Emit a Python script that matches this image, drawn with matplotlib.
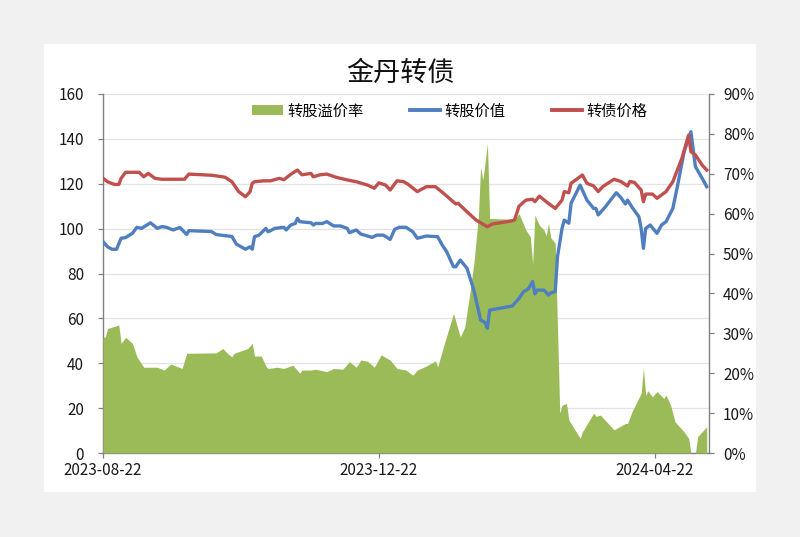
import numpy as np
import pandas as pd
import matplotlib
matplotlib.use("Agg")
import matplotlib.pyplot as plt
from matplotlib.patches import Patch, Rectangle
from matplotlib.lines import Line2D

plt.rcParams['font.family'] = ['Noto Sans CJK SC', 'DejaVu Sans']

START = pd.Timestamp('2023-08-22')

# 转债价格 (left axis) : days since START, value
red_days = [0, 2, 5, 7, 8, 10, 16, 18, 20, 23, 26, 36, 38, 48, 54, 57, 60, 63, 65, 66, 67, 71, 74, 78, 80,
            83, 86, 88, 92, 93, 96, 99, 103, 108, 112, 117, 120, 122, 125, 127, 130, 133, 135, 139, 143,
            147, 151, 156, 157, 161, 165, 170, 172, 181, 182, 184, 187, 190, 191, 193, 196, 200, 203,
            204, 206, 207, 212, 214, 217, 219, 221, 226, 229, 232, 233, 235, 238, 239, 240, 243, 245,
            249, 252, 256, 259, 260, 262, 265, 267]
red_vals = [122.4, 120.9, 119.7, 119.7, 122.4, 125.1, 125.1, 123.1, 124.6, 122.4, 122.0, 122.0, 124.3,
            123.8, 122.9, 120.9, 116.5, 114.2, 116.4, 120.2, 120.9, 121.3, 121.3, 122.4, 121.8, 124.2,
            126.1, 124.0, 124.6, 123.1, 124.0, 124.3, 122.9, 121.7, 120.9, 119.4, 118.0, 120.4, 119.4,
            117.2, 121.3, 120.9, 119.7, 116.5, 118.7, 118.7, 115.4, 111.0, 111.3, 107.5, 103.8, 100.8,
            102.0, 103.5, 103.9, 110.0, 112.7, 113.1, 112.0, 114.5, 112.0, 109.0, 112.7, 116.5, 116.0,
            120.2, 123.9, 120.2, 119.0, 116.5, 118.7, 122.0, 121.0, 119.0, 121.0, 120.6, 117.2, 112.0,
            115.4, 115.4, 113.5, 116.5, 120.9, 131.3, 141.7, 134.3, 132.8, 128.3, 126.1]

# 转股价值 (left axis)
blue_days = [0, 2, 4, 6, 8, 10, 13, 15, 17, 21, 24, 26, 28, 31, 34, 37, 38, 48, 50, 52, 57, 59, 63, 65,
             66, 67, 69, 72, 73, 76, 80, 81, 83, 85, 86, 87, 92, 93, 94, 97, 99, 102, 105, 108, 109, 112,
             114, 119, 121, 124, 127, 129, 131, 134, 137, 139, 143, 148, 150, 152, 155, 156, 158, 161,
             164, 167, 169, 170, 171, 181, 184, 186, 188, 190, 191, 192, 195, 197, 198, 200, 201, 203,
             204, 206, 207, 211, 214, 217, 218, 219, 222, 227, 229, 231, 232, 234, 237, 238, 239, 240,
             242, 245, 247, 249, 252, 254, 257, 260, 262, 265, 267]
blue_vals = [94.2, 91.9, 90.8, 90.8, 95.7, 96.0, 97.9, 100.6, 100.1, 102.6, 100.1, 100.9, 100.6, 99.4,
             100.5, 97.4, 99.1, 98.7, 97.4, 97.1, 96.5, 93.1, 90.8, 91.9, 90.8, 96.4, 97.1, 100.1, 98.6,
             100.1, 100.6, 99.4, 101.6, 102.3, 104.6, 103.1, 102.6, 101.6, 102.3, 102.3, 103.1, 101.2,
             101.2, 100.1, 98.2, 99.4, 97.6, 96.1, 97.1, 97.1, 95.2, 99.7, 100.6, 100.6, 98.6, 95.7, 96.7,
             96.4, 92.7, 89.7, 83.0, 83.0, 86.0, 82.3, 72.6, 59.3, 58.1, 55.6, 63.7, 65.5, 68.9, 71.9,
             73.0, 76.4, 70.9, 72.6, 72.6, 70.4, 71.4, 71.9, 87.5, 100.1, 103.8, 102.4, 111.3, 119.4,
             112.7, 109.0, 109.0, 106.1, 109.5, 116.0, 113.9, 111.0, 112.7, 109.5, 105.3, 100.1, 91.2,
             100.1, 101.6, 97.9, 101.6, 103.1, 109.0, 118.7, 134.3, 143.2, 127.6, 122.4, 118.7]

# 转股溢价率 (right axis, %)
green_days = [0, 1, 2, 7, 8, 10, 13, 15, 18, 24, 27, 30, 35, 37, 50, 53, 55, 57, 58, 64, 66, 67, 70, 72,
              73, 77, 80, 84, 87, 88, 92, 94, 99, 102, 106, 109, 112, 114, 117, 120, 123, 127, 130, 134,
              137, 139, 143, 147, 148, 151, 155, 158, 160, 162, 164, 166, 167, 168, 170, 171, 181, 182,
              184, 187, 189, 190, 191, 193, 195, 196, 197, 198, 200, 202, 203, 205, 206, 211, 212, 217,
              218, 220, 226, 231, 232, 234, 238, 239, 240, 241, 243, 245, 248, 249, 251, 253, 257, 259,
              260, 262, 263, 267]
green_vals = [29.0, 29.1, 31.2, 32.1, 27.5, 29.0, 27.5, 24.1, 21.5, 21.5, 20.8, 22.3, 21.2, 25.0, 25.1,
              26.2, 25.0, 24.1, 25.0, 26.2, 27.5, 24.3, 24.3, 21.8, 21.2, 21.5, 21.2, 22.0, 20.0, 20.8,
              20.8, 21.0, 20.4, 21.2, 21.0, 22.9, 21.5, 23.3, 23.0, 21.5, 24.6, 23.3, 21.2, 20.8, 19.5,
              20.8, 21.8, 23.1, 21.6, 27.5, 35.0, 29.1, 31.6, 39.2, 47.5, 59.2, 71.8, 68.4, 77.6, 58.8,
              58.6, 58.6, 60.0, 55.9, 54.2, 47.5, 59.6, 57.1, 55.9, 54.5, 57.6, 54.0, 52.6, 10.0, 12.0,
              12.4, 8.3, 3.7, 5.3, 10.0, 9.2, 9.5, 5.8, 7.4, 7.4, 10.4, 15.0, 21.2, 14.5, 15.6, 14.1,
              15.4, 13.7, 14.5, 12.0, 7.8, 5.3, 3.7, 0.0, 0.0, 4.1, 6.6]

tick_labels = ['2023-08-22', '2023-12-22', '2024-04-22']
left_ticks = [0, 20, 40, 60, 80, 100, 120, 140, 160]
right_ticks = [0, 10, 20, 30, 40, 50, 60, 70, 80, 90]

GREEN = '#9BBB59'
BLUE = '#4F7FBF'
RED = '#C0504D'
SPINE = '#808080'

red_x = START + pd.to_timedelta(red_days, unit='D')
blue_x = START + pd.to_timedelta(blue_days, unit='D')
green_x = START + pd.to_timedelta(green_days, unit='D')
tick_x = pd.to_datetime(tick_labels)

fig = plt.figure(figsize=(8.0, 5.37), dpi=100)
fig.patch.set_facecolor('#f1f1f1')
fig.patches.append(Rectangle((44 / 800, 1 - 492 / 537), (756 - 44) / 800, (492 - 44) / 537,
                             transform=fig.transFigure, facecolor='white', edgecolor='none',
                             zorder=-10))

pos = [103 / 800, 1 - 453 / 537, (709 - 103) / 800, (453 - 94) / 537]
ax = fig.add_axes(pos)
ax.set_facecolor('white')
ax2 = ax.twinx()
ax3 = ax.twinx()
ax.set_zorder(1)
ax2.set_zorder(2)
ax3.set_zorder(3)

xmin = START
xmax = START + pd.Timedelta(days=268)

# background grid on left axis
ax.set_ylim(0, 160)
ax.set_yticks(left_ticks)
ax.yaxis.grid(True, color='#e3e3e3', linewidth=0.9)
ax.set_axisbelow(True)
ax.set_xlim(xmin, xmax)
ax.set_xticks(tick_x)
ax.set_xticklabels(tick_labels)

# premium area
ax2.fill_between(green_x, 0, green_vals, color=GREEN, linewidth=0, zorder=2)
ax2.set_ylim(0, 90)
ax2.set_yticks(right_ticks)
ax2.set_yticklabels([f'{t}%' for t in right_ticks])
ax2.patch.set_visible(False)

# lines
ax3.plot(blue_x, blue_vals, color=BLUE, linewidth=2.4, solid_joinstyle='round')
ax3.plot(red_x, red_vals, color=RED, linewidth=2.4, solid_joinstyle='round')
ax3.set_ylim(0, 160)
ax3.set_xlim(xmin, xmax)
ax3.patch.set_visible(False)
ax3.set_yticks([])
for s in ax3.spines.values():
    s.set_visible(False)

for a in (ax, ax2):
    a.spines['top'].set_visible(False)
    for s in ('left', 'right', 'bottom'):
        a.spines[s].set_color(SPINE)
        a.spines[s].set_linewidth(1.0)
    a.tick_params(colors=SPINE, labelcolor='#1a1a1a', labelsize=11, length=3.6, width=0.9,
                  direction='out')
ax.spines['right'].set_visible(False)
ax2.spines['left'].set_visible(False)
ax2.spines['bottom'].set_visible(False)
ax.tick_params(axis='x', pad=3)
ax.tick_params(axis='y', pad=10)
ax2.tick_params(axis='y', pad=6.5)

fig.text(400 / 800, 1 - 73 / 537, '金丹转债', ha='center', va='center', fontsize=19.5,
         color='#111111')

handles = [Patch(facecolor=GREEN, edgecolor='none'),
           Line2D([0], [0], color=BLUE, linewidth=2.8),
           Line2D([0], [0], color=RED, linewidth=2.8)]
labels = ['转股溢价率', '转股价值', '转债价格']
leg = ax3.legend(handles, labels, loc='center', bbox_to_anchor=(450 / 800, 1 - 111 / 537),
                 bbox_transform=fig.transFigure, ncol=3, frameon=False, fontsize=11,
                 handlelength=2.0, handleheight=0.55, handletextpad=0.3, columnspacing=3.0)

fig.savefig('out.png', dpi=100, facecolor=fig.get_facecolor())
